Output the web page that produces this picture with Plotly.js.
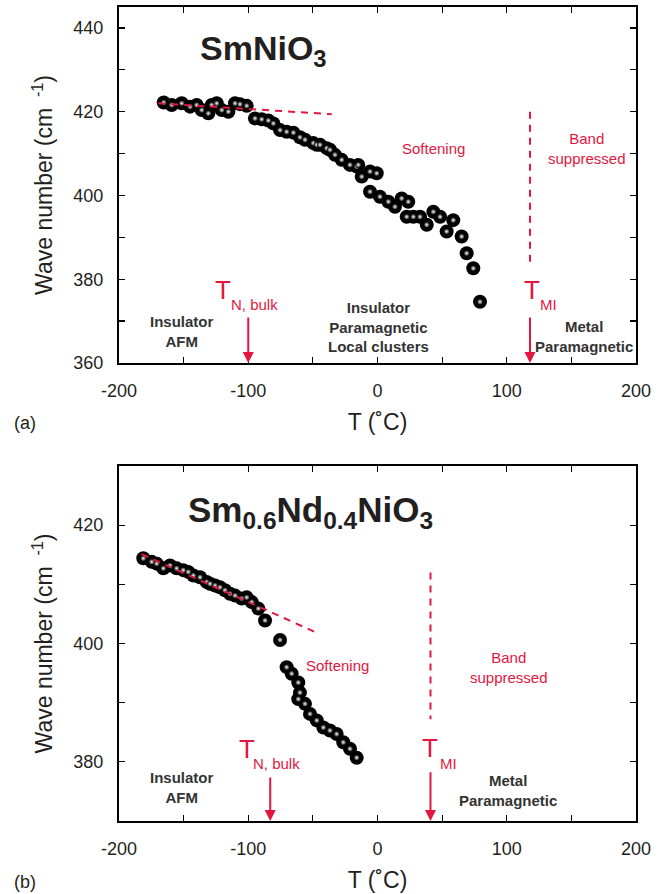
<!DOCTYPE html>
<html>
<head>
<meta charset="utf-8">
<script src="https://cdn.plot.ly/plotly-3.0.1.min.js"></script>
<style>html,body{margin:0;padding:0;background:#fff;}#chart{width:665px;height:894px;}</style>
</head>
<body>
<div id="chart"></div>
<script>
// ---- Data: panel (a) SmNiO3 ----
const tempA = [-165.4,-159.2,-151.5,-145,-139.9,-136,-130.9,-128.3,-124.4,-120.5,-115.4,-110.2,-106.4,-101.2,
  -94.8,-89.6,-84.5,-80.6,-75.4,-70.3,-65.1,-60,-56.1,-49.7,-47,-44.5,-39.3,-36.8,-32.9,-27.7,-21.3,-16.1,-14.9,
  -12.2,-5.8,-0.6,-5.8,1.9,8.4,13.5,18.7,23.8,22.6,27.7,32.9,38.1,43.2,48.4,53.5,58.6,65.1,69,74.1,79.3];
const waveA = [422.2,421.6,422.0,421.2,421.6,420.4,419.6,421.6,422.0,420.4,420.0,422.0,421.8,421.4,
  418.4,418.2,417.9,417.2,415.6,415.2,415.0,413.9,413.3,412.5,412.1,412.1,411.3,410.9,409.7,408.5,407.3,406.9,407.3,
  404.5,405.7,405.3,400.9,399.7,398.5,397.3,399.3,398.5,394.9,394.9,394.9,393.0,396.1,394.9,391.4,394.1,390.2,386.2,382.6,374.6];
const fitA_T = [-169.6, -35.4];
const fitA_W = [422.0, 419.4];
const tnA = -100, tmiA = 118;

// ---- Data: panel (b) Sm0.6Nd0.4NiO3 ----
const tempB = [-181.2,-174.7,-170.8,-165.7,-160.5,-155.4,-150.3,-146.4,-142.5,-137.3,-132.1,-129.6,-125.7,-121.9,
  -118,-114.1,-110.2,-105.1,-101.2,-97.3,-92.2,-87.0,-75.4,-70.3,-66.4,-61.3,-60,-61.3,-56.1,-52.2,-47,-41.9,-36.8,
  -31.6,-26.5,-21.3,-16.1];
const waveB = [414.4,413.8,413.5,412.7,413.2,412.7,412.4,412.1,411.5,411.2,410.4,410.1,409.8,409.5,
  409.0,408.4,408.1,407.6,407.8,407.0,405.9,403.9,400.6,396.0,394.9,393.4,391.7,390.6,389.8,388.1,387.0,385.8,385.3,
  384.7,383.3,382.2,380.7];
const fitB_T = [-182.5, -45.8];
const fitB_W = [415.1, 401.7];
const tnB = -83, tmiB = 41;

// ---- Tick labels ----
const xTickVals = [-200, -100, 0, 100, 200];
const xTickText = ['-200', '-100', '0', '100', '200'];
const yTickValsA = [360, 380, 400, 420, 440];
const yTickTextA = ['360', '380', '400', '420', '440'];
const yTickValsB = [380, 400, 420];
const yTickTextB = ['380', '400', '420'];
const xRange = [-200, 200];
const yRangeA = [360, 445];
const yRangeB = [370, 430];
const xMinor = 50, yMinor = 10;

const RED = '#e2163f';
const INK = '#231f20';
const FONT = 'Liberation Sans, Arial, Helvetica, sans-serif';

function balls(x, y, xa, ya) {
  return [
    {x: x, y: y, xaxis: xa, yaxis: ya, mode: 'markers', type: 'scatter', hoverinfo: 'skip',
     marker: {size: 14, color: '#000000', line: {width: 0}}},
    {x: x, y: y, xaxis: xa, yaxis: ya, mode: 'markers', type: 'scatter', hoverinfo: 'skip',
     marker: {size: 6, color: '#000000', gradient: {type: 'radial', color: '#ffffff'}, line: {width: 0}}}
  ];
}
function dashLine(x, y, xa, ya) {
  return {x: x, y: y, xaxis: xa, yaxis: ya, mode: 'lines', type: 'scatter', hoverinfo: 'skip',
    line: {color: RED, width: 2, dash: '7px,6px'}};
}

const traces = [
  ...balls(tempA, waveA, 'x', 'y'),
  dashLine(fitA_T, fitA_W, 'x', 'y'),
  dashLine([tmiA, tmiA], [420, 383.5], 'x', 'y'),
  ...balls(tempB, waveB, 'x2', 'y2'),
  dashLine(fitB_T, fitB_W, 'x2', 'y2'),
  dashLine([tmiB, tmiB], [412, 387.2], 'x2', 'y2')
];

function xAxis(anchor) {
  return {anchor: anchor, domain: [0, 1], range: xRange, showgrid: false, zeroline: false,
    showline: true, linecolor: '#000', linewidth: 2, mirror: 'ticks',
    ticks: 'inside', ticklen: 6, tickwidth: 1.2, tickcolor: '#000',
    tickmode: 'array', tickvals: xTickVals, ticktext: xTickText, ticklabelstandoff: 10,
    minor: {tickmode: 'linear', tick0: 0, dtick: xMinor, ticks: 'inside', ticklen: 6, tickwidth: 1.2, tickcolor: '#000', showgrid: false},
    tickfont: {family: FONT, size: 18, color: INK},
    title: {text: 'T (˚C)', font: {family: FONT, size: 23, color: INK}, standoff: 14}};
}
function yAxis(anchor, domain, range, vals, text) {
  return {anchor: anchor, domain: domain, range: range, showgrid: false, zeroline: false,
    showline: true, linecolor: '#000', linewidth: 2, mirror: 'ticks',
    ticks: 'inside', ticklen: 6, tickwidth: 1.2, tickcolor: '#000',
    tickmode: 'array', tickvals: vals, ticktext: text, ticklabelstandoff: 10,
    minor: {tickmode: 'linear', tick0: 0, dtick: yMinor, ticks: 'inside', ticklen: 6, tickwidth: 1.2, tickcolor: '#000', showgrid: false},
    tickfont: {family: FONT, size: 18, color: INK},
    title: {text: 'Wave number (cm <sup> -1</sup>)', font: {family: FONT, size: 23, color: INK}, standoff: 14}};
}

function txt(x, y, xr, yr, text, size, color, bold, extra) {
  return Object.assign({x: x, y: y, xref: xr, yref: yr, text: bold ? '<b>' + text + '</b>' : text,
    showarrow: false, font: {family: FONT, size: size, color: color}, xanchor: 'center', yanchor: 'middle'}, extra || {});
}
function arrow(x, y0, y1, xr, yr) {
  return {x: x, y: y1, ax: x, ay: y0, xref: xr, yref: yr, axref: xr, ayref: yr, text: '',
    showarrow: true, arrowhead: 2, arrowsize: 1.1, arrowwidth: 2, arrowcolor: RED, standoff: 0};
}

const annotations = [
  // panel a
  txt(-88, 434.5, 'x', 'y', 'SmNiO<sub>3</sub>', 34, INK, true),
  txt(43.7, 411.1, 'x', 'y', 'Softening', 15, RED, false),
  txt(162, 411.1, 'x', 'y', 'Band<br>suppressed', 15, RED, false),
  txt(-119.5, 377.4, 'x', 'y', 'T', 26, RED, false),
  txt(-94.8, 373.9, 'x', 'y', 'N, bulk', 15, RED, false),
  txt(119.5, 377.4, 'x', 'y', 'T', 26, RED, false),
  txt(132, 373.9, 'x', 'y', 'MI', 15, RED, false),
  arrow(tnA, 371.2, 360, 'x', 'y'),
  arrow(tmiA, 371.2, 360, 'x', 'y'),
  txt(-151, 367.6, 'x', 'y', 'Insulator<br>AFM', 15, '#333', true),
  txt(0.8, 368.6, 'x', 'y', 'Insulator<br>Paramagnetic<br>Local clusters', 15, '#333', true),
  txt(160, 366.4, 'x', 'y', 'Metal<br>Paramagnetic', 15, '#333', true),
  // panel b
  txt(-52, 422.3, 'x2', 'y2', 'Sm<sub>0.6</sub>Nd<sub>0.4</sub>NiO<sub>3</sub>', 35, INK, true),
  txt(-31.3, 396.3, 'x2', 'y2', 'Softening', 15, RED, false),
  txt(101.7, 395.9, 'x2', 'y2', 'Band<br>suppressed', 15, RED, false),
  txt(-101, 382.2, 'x2', 'y2', 'T', 26, RED, false),
  txt(-77.8, 379.7, 'x2', 'y2', 'N, bulk', 15, RED, false),
  txt(40.6, 382.4, 'x2', 'y2', 'T', 26, RED, false),
  txt(55.3, 379.8, 'x2', 'y2', 'MI', 15, RED, false),
  arrow(tnB, 377.6, 370, 'x2', 'y2'),
  arrow(tmiB, 378.5, 370, 'x2', 'y2'),
  txt(-151, 375.6, 'x2', 'y2', 'Insulator<br>AFM', 15, '#333', true),
  txt(101, 375.1, 'x2', 'y2', 'Metal<br>Paramagnetic', 15, '#333', true),
  // panel labels
  txt(-0.182, 0.489, 'paper', 'paper', '(a)', 18, INK, false),
  txt(-0.182, -0.075, 'paper', 'paper', '(b)', 18, INK, false)
];

const layout = {
  width: 665, height: 894,
  margin: {l: 119, r: 29, t: 7, b: 73},
  paper_bgcolor: '#ffffff', plot_bgcolor: '#ffffff',
  showlegend: false,
  font: {family: FONT, color: INK},
  xaxis: xAxis('y'),
  yaxis: yAxis('x', [0.5627, 1], yRangeA, yTickValsA, yTickTextA),
  xaxis2: xAxis('y2'),
  yaxis2: yAxis('x2', [0, 0.4361], yRangeB, yTickValsB, yTickTextB),
  annotations: annotations
};

Plotly.newPlot('chart', traces, layout, {staticPlot: true, displayModeBar: false});
</script>
</body>
</html>
